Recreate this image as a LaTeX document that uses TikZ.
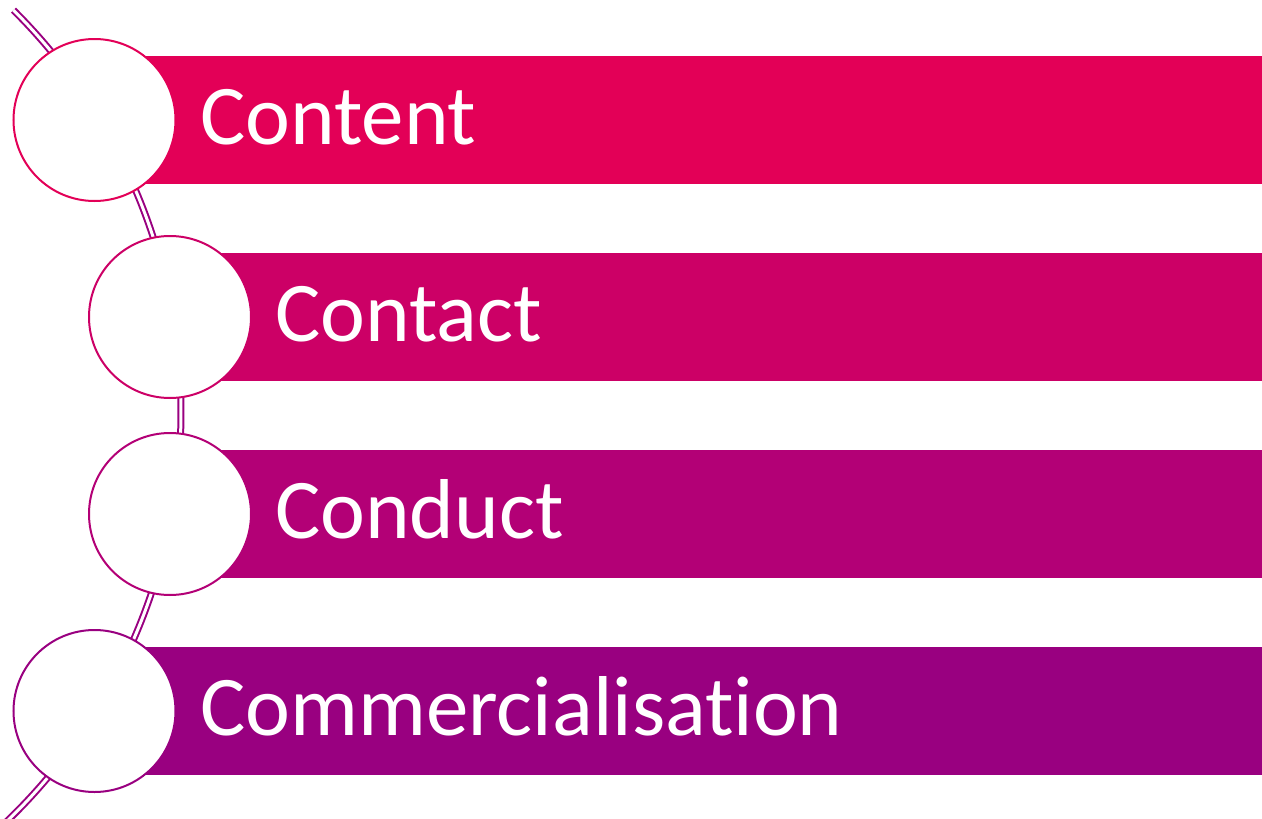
\documentclass[tikz,border=0pt]{standalone}
\usepackage{fontspec}
\setmainfont{Carlito}[Ligatures={NoCommon}]
\definecolor{cA}{RGB}{227,0,87}
\definecolor{cB}{RGB}{204,0,102}
\definecolor{cC}{RGB}{179,0,118}
\definecolor{cD}{RGB}{153,0,128}
\begin{document}
\begin{tikzpicture}[x=1pt,y=-1pt,
  bar/.style={fill=#1,draw=none,inner sep=0pt,minimum height=128pt,anchor=west},
  ring/.style={circle,draw=#1,fill=white,line width=2pt,minimum size=162pt,inner sep=0pt},
  lbl/.style={anchor=base west,text=white,inner sep=0pt,font=\fontsize{85}{100}\selectfont},
  spine/.style={draw=cD,line width=2pt,double=white,double distance=3pt}]
\useasboundingbox (0,0) rectangle (1262,819);
% spine arc
\coordinate (ac) at (-386,412.5);
\draw[spine] (ac) ++(-45.2:567) arc[start angle=-45.2,end angle=47,radius=567];
% bars
\node[bar=cA,minimum width=1168pt] (b1) at (94.5,120) {};
\node[bar=cB,minimum width=1092pt] (b2) at (170,317) {};
\node[bar=cC,minimum width=1092pt] (b3) at (170,514) {};
\node[bar=cD,minimum width=1168pt] (b4) at (94.5,711) {};
% circles
\node[ring=cA] (r1) at (94.5,120) {};
\node[ring=cB] (r2) at (170,317) {};
\node[ring=cC] (r3) at (170,514) {};
\node[ring=cD] (r4) at (94.5,711) {};
% labels
\node[lbl] (t1) at (200,144) {Content};
\node[lbl] (t2) at (275,341) {Contact};
\node[lbl] (t3) at (275,538) {Conduct};
\node[lbl] (t4) at (200,735) {Commercialisation};
\end{tikzpicture}
\end{document}
